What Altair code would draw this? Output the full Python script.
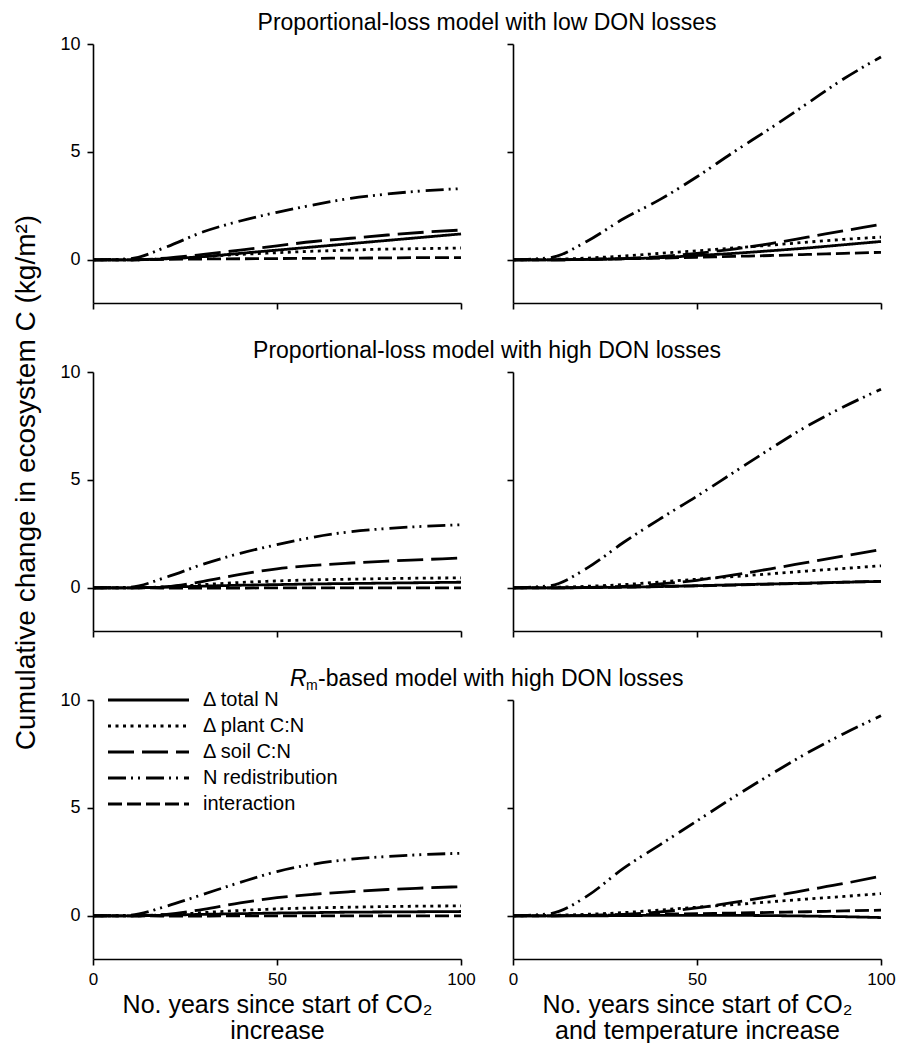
import altair as alt
import pandas as pd

years = [0, 10, 20, 30, 40, 50, 60, 70, 80, 90, 100]
series_names = ["Δ total N", "Δ plant C:N", "Δ soil C:N", "N redistribution", "interaction"]

row_titles = [
    "Proportional-loss model with low DON losses",
    "Proportional-loss model with high DON losses",
    "-based model with high DON losses",
]

# Panel A: proportional-loss, low DON, CO2 only
a_total = [0, 0.0, 0.05, 0.15, 0.3, 0.45, 0.6, 0.75, 0.9, 1.05, 1.2]
a_plant = [0, 0.0, 0.05, 0.15, 0.25, 0.33, 0.4, 0.45, 0.5, 0.52, 0.55]
a_soil = [0, 0.0, 0.08, 0.25, 0.45, 0.65, 0.85, 1.0, 1.15, 1.28, 1.38]
a_redis = [0, 0.05, 0.6, 1.3, 1.8, 2.2, 2.55, 2.85, 3.05, 3.2, 3.3]
a_inter = [0, 0, 0.02, 0.04, 0.05, 0.06, 0.07, 0.08, 0.09, 0.1, 0.1]

# Panel B: proportional-loss, low DON, CO2 + temperature
b_total = [0, 0, 0.02, 0.05, 0.1, 0.2, 0.3, 0.42, 0.55, 0.7, 0.85]
b_plant = [0, 0.02, 0.08, 0.18, 0.3, 0.42, 0.55, 0.68, 0.82, 0.95, 1.05]
b_soil = [0, 0, 0.02, 0.06, 0.15, 0.3, 0.5, 0.75, 1.05, 1.35, 1.65]
b_redis = [0, 0.1, 0.85, 1.9, 2.8, 3.85, 5.0, 6.1, 7.25, 8.4, 9.4]
b_inter = [0, 0, 0.02, 0.05, 0.08, 0.12, 0.16, 0.2, 0.25, 0.3, 0.35]

# Panel C: proportional-loss, high DON, CO2 only
c_total = [0, 0, 0.03, 0.08, 0.12, 0.15, 0.18, 0.2, 0.22, 0.24, 0.26]
c_plant = [0, 0, 0.05, 0.15, 0.25, 0.32, 0.37, 0.4, 0.43, 0.45, 0.46]
c_soil = [0, 0, 0.05, 0.3, 0.62, 0.88, 1.04, 1.15, 1.24, 1.31, 1.38]
c_redis = [0, 0.03, 0.5, 1.1, 1.6, 2.0, 2.35, 2.6, 2.75, 2.85, 2.92]
c_inter = [0, 0, -0.01, -0.01, -0.01, 0, 0, 0, 0, 0, 0]

# Panel D: proportional-loss, high DON, CO2 + temperature
d_total = [0, 0, 0.01, 0.03, 0.06, 0.1, 0.14, 0.18, 0.22, 0.26, 0.3]
d_plant = [0, 0.02, 0.07, 0.15, 0.27, 0.4, 0.52, 0.65, 0.78, 0.9, 1.02]
d_soil = [0, 0, 0.02, 0.07, 0.18, 0.35, 0.6, 0.88, 1.18, 1.48, 1.77]
d_redis = [0, 0.1, 0.9, 2.1, 3.2, 4.25, 5.35, 6.45, 7.5, 8.4, 9.2]
d_inter = [0, 0, 0.01, 0.03, 0.06, 0.09, 0.13, 0.17, 0.21, 0.26, 0.3]

# Panel E: Rm-based, high DON, CO2 only
e_total = [0, 0, 0.03, 0.07, 0.1, 0.13, 0.15, 0.17, 0.18, 0.19, 0.2]
e_plant = [0, 0, 0.05, 0.15, 0.25, 0.32, 0.37, 0.4, 0.43, 0.45, 0.46]
e_soil = [0, 0, 0.07, 0.3, 0.6, 0.84, 1.0, 1.12, 1.22, 1.29, 1.35]
e_redis = [0, 0.03, 0.45, 1.0, 1.55, 2.05, 2.4, 2.62, 2.75, 2.84, 2.9]
e_inter = [0, 0, -0.01, -0.01, 0, 0, 0, 0, 0, 0, 0]

# Panel F: Rm-based, high DON, CO2 + temperature
f_total = [0, 0, 0, 0.01, 0.02, 0.02, 0.02, 0.01, -0.01, -0.04, -0.08]
f_plant = [0, 0.02, 0.07, 0.15, 0.27, 0.4, 0.52, 0.65, 0.78, 0.9, 1.03]
f_soil = [0, 0, 0.02, 0.07, 0.18, 0.37, 0.62, 0.9, 1.2, 1.5, 1.84]
f_redis = [0, 0.1, 0.9, 2.2, 3.3, 4.4, 5.5, 6.55, 7.55, 8.45, 9.27]
f_inter = [0, 0, 0.02, 0.04, 0.07, 0.1, 0.13, 0.16, 0.19, 0.23, 0.26]

dash_range = [[1, 0], [3, 4.5], [26, 8], [18, 5, 2, 5, 2, 6], [14, 5]]

FONT = "Liberation Sans"
PW, PH = 368, 259
GAP = 52


def make_df(*cols):
    rows = []
    for name, vals in zip(series_names, cols):
        for yr, v in zip(years, vals):
            rows.append({"year": yr, "value": v, "series": name})
    return pd.DataFrame(rows)


def panel(df, row, col, extra=None):
    bottom = row == 2
    left = col == 0
    x_axis = alt.Axis(
        values=[0, 50, 100], labels=bottom, grid=False, tickSize=6, labelPadding=6,
        labelFlush=False, labelFontSize=17,
        title=(["No. years since start of CO₂", "increase"] if (bottom and left) else
               (["No. years since start of CO₂", "and temperature increase"] if bottom else None)),
        titleFontSize=25, titleFontWeight="normal", titlePadding=5, titleLineHeight=26,
    )
    y_kwargs = dict(
        values=[0, 5, 10], labels=left, grid=False, tickSize=6, labelPadding=7,
        labelFlush=False, labelFontSize=18, title=None,
    )
    if left and row == 1:
        y_kwargs.update(
            title="Cumulative change in ecosystem C (kg/m²)", titleFontSize=28,
            titleFontWeight="normal", titleY=110, titlePadding=19,
        )
    y_axis = alt.Axis(**y_kwargs)
    lines = alt.Chart(df).mark_line(color="black", strokeWidth=2.8, interpolate="monotone",
                                    strokeCap="butt").encode(
        x=alt.X("year:Q", scale=alt.Scale(domain=[0, 100], nice=False), axis=x_axis),
        y=alt.Y("value:Q", scale=alt.Scale(domain=[-2, 10], nice=False), axis=y_axis),
        strokeDash=alt.StrokeDash("series:N", scale=alt.Scale(domain=series_names, range=dash_range),
                                  legend=None),
        detail="series:N",
    )
    layers = [lines]
    if extra:
        layers += extra
    return alt.layer(*layers).properties(width=PW, height=PH)


def title_text(t, x, size=23, style="normal", align="center", dy=0):
    return alt.Chart(pd.DataFrame({"t": [t]})).mark_text(
        fontSize=size, font=FONT, fontStyle=style, align=align, baseline="alphabetic", color="black"
    ).encode(text="t:N", x=alt.value(x), y=alt.value(-14 + dy))


center_x = (PW + GAP + PW) / 2

# legend in bottom-left panel
legend_layers = []
for i, name in enumerate(series_names):
    yy = 0 + 26 * i
    dash = dash_range[i]
    rule_kwargs = dict(color="black", strokeWidth=2.8, strokeCap="butt")
    if i != 0:
        rule_kwargs["strokeDash"] = dash
    legend_layers.append(
        alt.Chart(pd.DataFrame({"s": [name]})).mark_rule(**rule_kwargs).encode(
            x=alt.value(15), x2=alt.value(96), y=alt.value(yy))
    )
    legend_layers.append(
        alt.Chart(pd.DataFrame({"s": [name]})).mark_text(
            fontSize=20, font=FONT, align="left", baseline="middle", color="black"
        ).encode(text="s:N", x=alt.value(110), y=alt.value(yy))
    )

rm_x0 = center_x - 197
row3_title = [
    title_text("R", rm_x0, style="italic", align="left"),
    title_text("m", rm_x0 + 16, size=14, align="left", dy=4),
    title_text(row_titles[2], rm_x0 + 28, align="left"),
]

pA = panel(make_df(a_total, a_plant, a_soil, a_redis, a_inter), 0, 0, [title_text(row_titles[0], center_x)])
pB = panel(make_df(b_total, b_plant, b_soil, b_redis, b_inter), 0, 1)
pC = panel(make_df(c_total, c_plant, c_soil, c_redis, c_inter), 1, 0, [title_text(row_titles[1], center_x)])
pD = panel(make_df(d_total, d_plant, d_soil, d_redis, d_inter), 1, 1)
pE = panel(make_df(e_total, e_plant, e_soil, e_redis, e_inter), 2, 0, row3_title + legend_layers)
pF = panel(make_df(f_total, f_plant, f_soil, f_redis, f_inter), 2, 1)

chart = alt.concat(pA, pB, pC, pD, pE, pF, columns=2,
                   spacing=alt.RowColnumber(row=69, column=GAP), bounds="flush").configure(
    font=FONT,
).configure_view(stroke=None).configure_axis(
    domainColor="black", domainWidth=1.6, tickColor="black", tickWidth=1.6,
    labelColor="black", titleColor="black", labelFont=FONT, titleFont=FONT,
).properties(padding={"left": 4, "top": 4, "right": 0, "bottom": 0})

chart.save("out.html", embed_options={"renderer": "svg", "actions": False})
